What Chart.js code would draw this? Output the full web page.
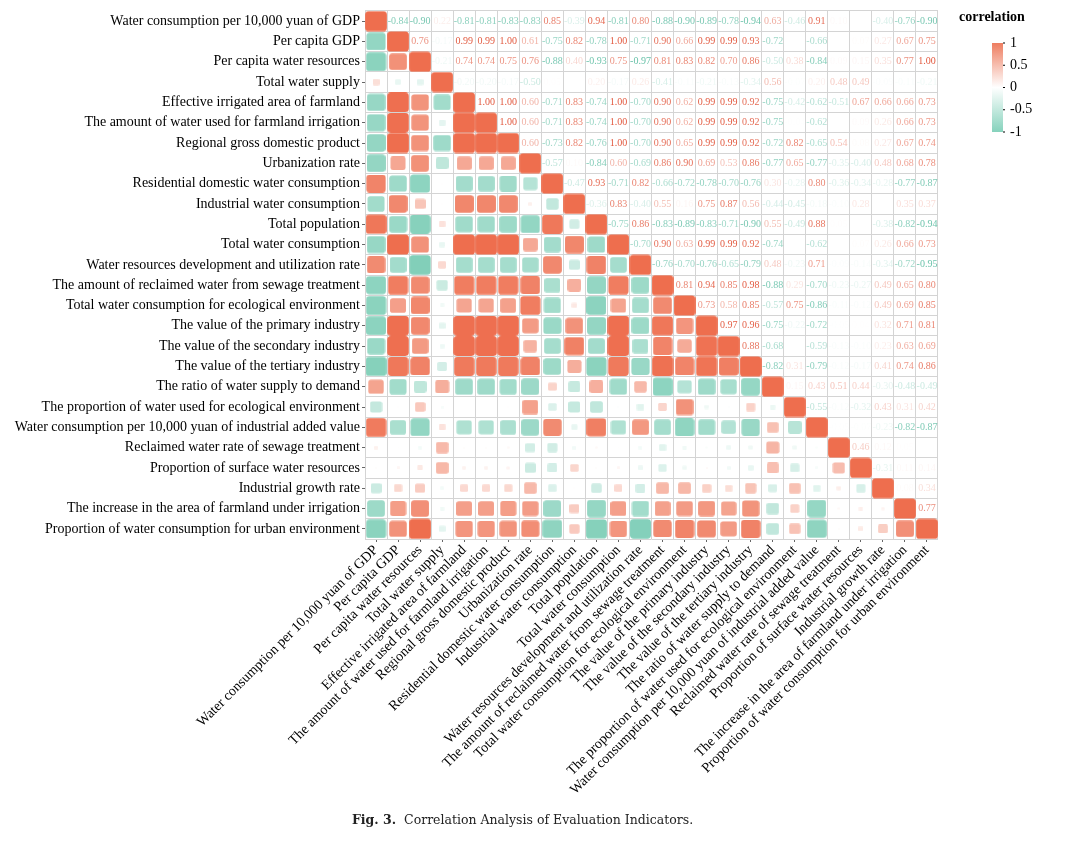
<!DOCTYPE html>
<html>
<head>
<meta charset="utf-8">
<title>Correlation Analysis of Evaluation Indicators</title>
<script src="https://cdn.jsdelivr.net/npm/chart.js@4"></script>
<style>
  body { margin: 0; background: #fff; }
  #box { position: relative; width: 1074px; height: 844px; }
  #caption {
    position: absolute; left: 352px; top: 812px;
    font: 12.5px "DejaVu Serif", serif; color: #222; white-space: pre;
  }
</style>
</head>
<body>
<div id="box">
  <canvas id="corr" width="1074" height="844"></canvas>
  <div id="caption"><b>Fig. 3.</b>  Correlation Analysis of Evaluation Indicators.</div>
</div>
<script>
const indicators = [
  "Water consumption per 10,000 yuan of GDP",
  "Per capita GDP",
  "Per capita water resources",
  "Total water supply",
  "Effective irrigated area of farmland",
  "The amount of water used for farmland irrigation",
  "Regional gross domestic product",
  "Urbanization rate",
  "Residential domestic water consumption",
  "Industrial water consumption",
  "Total population",
  "Total water consumption",
  "Water resources development and utilization rate",
  "The amount of reclaimed water from sewage treatment",
  "Total water consumption for ecological environment",
  "The value of the primary industry",
  "The value of the secondary industry",
  "The value of the tertiary industry",
  "The ratio of water supply to demand",
  "The proportion of water used for ecological environment",
  "Water consumption per 10,000 yuan of industrial added value",
  "Reclaimed water rate of sewage treatment",
  "Proportion of surface water resources",
  "Industrial growth rate",
  "The increase in the area of farmland under irrigation",
  "Proportion of water consumption for urban environment"
];

// squares, lower triangle: row i holds columns 0..i (last one is the diagonal)
const squareRows = [
  [1],
  [-.84, 1],
  [-.90, .76, 1],
  [.22, -.17, -.21, 1],
  [-.81, .99, .74, -.72, 1],
  [-.81, .99, .74, -.20, 1, 1],
  [-.83, 1, .75, -.75, 1, 1, 1],
  [-.83, .61, .76, -.50, .60, .60, .60, 1],
  [.85, -.75, -.88, .02, -.71, -.71, -.73, -.57, 1],
  [-.72, .82, .40, .02, .83, .83, .82, .10, -.47, 1],
  [.94, -.78, -.93, .20, -.74, -.74, -.76, -.84, .93, -.36, 1],
  [-.81, 1, .75, -.17, 1, 1, 1, .60, -.71, .83, -.75, 1],
  [.80, -.71, -.97, .26, -.70, -.70, -.70, -.69, .82, -.40, .86, -.70, 1],
  [-.88, .90, .81, -.41, .90, .90, .90, .86, -.66, .55, -.83, .90, -.76, 1],
  [-.90, .66, .83, -.11, .62, .62, .65, .90, -.72, .16, -.89, .63, -.70, .81, 1],
  [-.89, .99, .82, -.21, .99, .99, .99, .69, -.78, .75, -.83, .99, -.76, .94, .73, 1],
  [-.78, .99, .70, -.13, .99, .99, .99, .53, -.70, .87, -.71, .99, -.65, .85, .58, .97, 1],
  [-.94, .93, .86, -.34, .92, .92, .92, .86, -.76, .56, -.90, .92, -.79, .98, .85, .96, .88, 1],
  [.63, -.72, -.50, .56, -.75, -.75, -.72, -.77, .30, -.44, .55, -.74, .48, -.88, -.57, -.75, -.68, -.82, 1],
  [-.46, .02, .38, -.07, 0, 0, .02, .65, -.28, -.45, -.49, -.03, -.23, .29, .75, -.12, -.03, .31, -.15, 1],
  [.91, -.66, -.84, .20, -.62, -.62, -.65, -.77, .80, -.18, .88, -.62, .71, -.70, -.86, -.72, -.59, -.79, .43, -.55, 1],
  [.10, .01, -.09, .48, .03, .03, .05, -.35, -.36, -.10, .05, .01, -.09, -.23, -.11, -.05, -.13, -.12, .51, -.12, -.05, 1],
  [.03, .07, .15, .49, .09, .09, .08, -.40, -.34, .28, .03, .07, -.14, -.27, -.12, .04, -.10, -.17, .44, -.32, -.07, .46, 1],
  [-.40, .27, .35, -.09, .26, .26, .27, .48, -.28, .02, -.38, .26, -.34, .49, .49, .32, .23, .41, -.30, .43, -.23, .12, -.31, 1],
  [-.76, .67, .77, -.11, .66, .66, .67, .68, -.77, .35, -.82, .66, -.72, .65, .69, .71, .63, .74, -.48, .31, -.82, .05, .11, .08, 1],
  [-.90, .75, 1, -.21, .73, .73, .74, .78, -.87, .37, -.94, .73, -.95, .80, .85, .81, .69, .86, -.49, .42, -.87, .03, .14, .34, .77, 1]
];

// printed numbers, upper triangle: row i holds columns i+1..25
const numberRows = [
  [-.84, -.90, .22, -.81, -.81, -.83, -.83, .85, -.39, .94, -.81, .80, -.88, -.90, -.89, -.78, -.94, .63, -.46, .91, .10, .03, -.40, -.76, -.90],
  [.76, -.17, .99, .99, 1, .61, -.75, .82, -.78, 1, -.71, .90, .66, .99, .99, .93, -.72, .02, -.66, .01, .07, .27, .67, .75],
  [-.21, .74, .74, .75, .76, -.88, .40, -.93, .75, -.97, .81, .83, .82, .70, .86, -.50, .38, -.84, .09, .15, .35, .77, 1],
  [-.20, -.20, -.17, -.50, .05, .02, .20, -.17, .26, -.41, -.11, -.21, -.13, -.34, .56, -.07, .20, .48, .49, -.09, -.11, -.21],
  [1, 1, .60, -.71, .83, -.74, 1, -.70, .90, .62, .99, .99, .92, -.75, -.42, -.62, -.51, .67, .66, .66, .73],
  [1, .60, -.71, .83, -.74, 1, -.70, .90, .62, .99, .99, .92, -.75, -.04, -.62, -.02, .09, .26, .66, .73],
  [.60, -.73, .82, -.76, 1, -.70, .90, .65, .99, .99, .92, -.72, .82, -.65, .54, .08, .27, .67, .74],
  [-.57, .10, -.84, .60, -.69, .86, .90, .69, .53, .86, -.77, .65, -.77, -.35, -.40, .48, .68, .78],
  [-.47, .93, -.71, .82, -.66, -.72, -.78, -.70, -.76, .30, -.28, .80, -.36, -.34, -.28, -.77, -.87],
  [-.36, .83, -.40, .55, .16, .75, .87, .56, -.44, -.45, -.18, -.10, .28, .02, .35, .37],
  [-.75, .86, -.83, -.89, -.83, -.71, -.90, .55, -.49, .88, .05, .03, -.38, -.82, -.94],
  [-.70, .90, .63, .99, .99, .92, -.74, -.03, -.62, .01, .07, .26, .66, .73],
  [-.76, -.70, -.76, -.65, -.79, .48, -.23, .71, -.09, -.14, -.34, -.72, -.95],
  [.81, .94, .85, .98, -.88, .29, -.70, -.23, -.27, .49, .65, .80],
  [.73, .58, .85, -.57, .75, -.86, -.11, -.12, .49, .69, .85],
  [.97, .96, -.75, -.22, -.72, -.05, .04, .32, .71, .81],
  [.88, -.68, .03, -.59, -.13, -.10, .23, .63, .69],
  [-.82, .31, -.79, -.12, -.17, .41, .74, .86],
  [.15, .43, .51, .44, -.30, -.48, -.49],
  [-.55, -.12, -.32, .43, .31, .42],
  [-.05, -.07, -.23, -.82, -.87],
  [.46, .12, .05, .03],
  [-.31, .11, .14],
  [.08, .34],
  [.77]
];

const legendTicks = [1, 0.5, 0, -0.5, -1];
const legendTitle = "correlation";

const SALMON = [238, 110, 78];
const TEAL = [126, 206, 183];
const SERIF = '"Liberation Serif", "Times New Roman", serif';

function tint(v) {
  const end = v >= 0 ? SALMON : TEAL;
  const t = Math.abs(v);
  const c = end.map(e => Math.round(255 + (e - 255) * t));
  return `rgb(${c[0]},${c[1]},${c[2]})`;
}

// rounded rectangles as point images, one per value, because the cells are not square
const CELL_W = 22.05, CELL_H = 20.36;
const cache = {};
function squareImage(v) {
  if (cache[v]) return cache[v];
  const k = Math.pow(Math.abs(v), 0.75);
  const w = Math.max(1, (CELL_W - 0.3) * k), h = Math.max(1, (CELL_H - 0.3) * k);
  const cv = document.createElement('canvas');
  cv.width = Math.ceil(w);
  cv.height = Math.ceil(h);
  const c = cv.getContext('2d');
  c.fillStyle = tint(v);
  c.beginPath();
  c.roundRect((cv.width - w) / 2, (cv.height - h) / 2, w, h, Math.min(w, h) * 0.18);
  c.fill();
  cache[v] = cv;
  return cv;
}

const squares = [];
squareRows.forEach((row, i) => row.forEach((v, j) => squares.push({x: indicators[j], y: indicators[i], v: v})));

const upperNumbers = {
  id: 'upperNumbers',
  afterDatasetsDraw(chart) {
    const c = chart.ctx;
    c.save();
    c.font = '10px ' + SERIF;
    c.textAlign = 'center';
    c.textBaseline = 'middle';
    numberRows.forEach((row, i) => row.forEach((v, n) => {
      const t = Math.abs(v);
      c.fillStyle = v >= 0
        ? `rgba(226,88,62,${Math.pow(t, 1.5)})`
        : `rgba(96,190,164,${Math.pow(t, 1.5)})`;
      c.fillText(v.toFixed(2), chart.scales.x.getPixelForValue(i + 1 + n), chart.scales.y.getPixelForValue(i));
    }));
    c.restore();
  }
};

const colorBar = {
  id: 'colorBar',
  afterDraw(chart) {
    const c = chart.ctx;
    const x = 992, w = 11, top = 43, bottom = 132;
    c.save();
    c.font = 'bold 14px ' + SERIF;
    c.fillStyle = '#000';
    c.textAlign = 'left';
    c.textBaseline = 'middle';
    c.fillText(legendTitle, 959, 17);
    const g = c.createLinearGradient(0, top, 0, bottom);
    g.addColorStop(0, 'rgb(238,125,96)');
    g.addColorStop(0.5, '#fff');
    g.addColorStop(1, 'rgb(134,210,188)');
    c.fillStyle = g;
    c.fillRect(x, top, w, bottom - top);
    c.font = '14px ' + SERIF;
    c.fillStyle = '#000';
    legendTicks.forEach(t => {
      const y = top + (1 - t) / 2 * (bottom - top);
      c.fillRect(x + w, y - 0.5, 2, 1);
      c.fillText(String(t), 1010, y);
    });
    c.restore();
  }
};

const tickFont = {family: SERIF, size: 14};

new Chart(document.getElementById('corr'), {
  type: 'scatter',
  data: {
    datasets: [{
      data: squares,
      pointRadius: 10,
      pointHoverRadius: 10,
      pointStyle: ctx => ctx.raw ? squareImage(ctx.raw.v) : 'rect'
    }]
  },
  options: {
    responsive: false,
    animation: false,
    layout: {padding: {top: 9.5, right: 136, left: 0, bottom: 0}},
    plugins: {legend: {display: false}, tooltip: {enabled: false}},
    scales: {
      x: {
        type: 'category', labels: indicators, offset: true, position: 'bottom',
        afterFit: s => { s.height = 305; },
        grid: {drawOnChartArea: false, tickColor: '#666', tickLength: 3},
        border: {display: false},
        ticks: {autoSkip: false, minRotation: 45, maxRotation: 45, color: '#000', font: tickFont, padding: 0}
      },
      y: {
        type: 'category', labels: indicators, offset: true, position: 'left',
        afterFit: s => { s.width = 365; },
        grid: {drawOnChartArea: false, tickColor: '#666', tickLength: 3},
        border: {display: false},
        ticks: {autoSkip: false, color: '#000', font: tickFont, padding: 2}
      },
      // second pair of axes only for the grey lines between the cells
      xGrid: {
        type: 'category', labels: indicators, offset: true, position: 'bottom',
        afterFit: s => { s.height = 0; },
        grid: {offset: true, color: '#d4d4d4', drawTicks: false},
        border: {display: false},
        ticks: {display: false, autoSkip: false}
      },
      yGrid: {
        type: 'category', labels: indicators, offset: true, position: 'left',
        afterFit: s => { s.width = 0; },
        grid: {offset: true, color: '#d4d4d4', drawTicks: false},
        border: {display: false},
        ticks: {display: false, autoSkip: false}
      }
    }
  },
  plugins: [upperNumbers, colorBar]
});
</script>
</body>
</html>
